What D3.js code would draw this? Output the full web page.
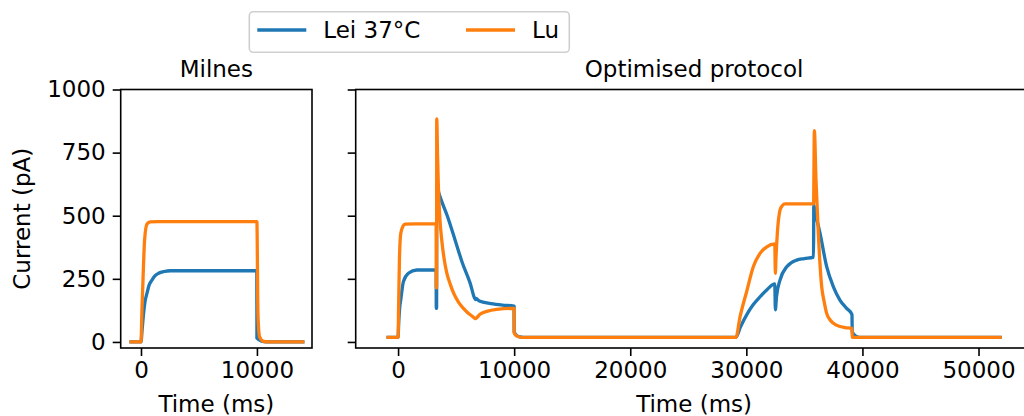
<!DOCTYPE html>
<html>
<head>
<meta charset="utf-8">
<script src="https://cdn.jsdelivr.net/npm/d3@7"></script>
<style>
    body { margin: 0; background: #fff; }
    svg { display: block; font-family: "DejaVu Sans", sans-serif; }
</style>
</head>
<body>
<div id="grafico"></div>
<script>
// Series names / colours
const seriesNames = ["Lei 37°C", "Lu"];
const seriesColors = ["#1f77b4", "#ff7f0e"];
const panelTitles = ["Milnes", "Optimised protocol"];
const yTicks = [0, 250, 500, 750, 1000];
const milnesTicks = [0, 10000];
const optTicks = [0, 10000, 20000, 30000, 40000, 50000];

// Milnes protocol: [time (ms), current (pA)]
const milnesLei = [[-1000, 0], [0, 0], [100, 50], [224, 113], [350, 160], [517, 193], [700, 225], [948, 245],
    [1200, 262], [1517, 272], [2000, 279], [2526, 282], [5000, 282], [9990, 282], [10000, 15], [10200, 8],
    [10570, 1], [11000, 0], [14100, 0]];
const milnesLu = [[-1000, 0], [0, 0], [80, 120], [172, 245], [310, 403], [517, 467], [800, 476], [1500, 477],
    [9990, 477], [10000, 476], [10086, 113], [10224, 21], [10570, 2], [11000, 0], [14100, 0]];

// Optimised protocol: [time (ms), current (pA)]
const optLei = [[-1000, 18], [0, 18], [60, 80], [150, 140], [230, 166], [460, 239], [890, 272], [1610, 285],
    [3280, 286], [3290, 133], [3320, 133], [3330, 625], [3445, 601], [3800, 552], [4220, 502], [4910, 404],
    [5510, 317], [6200, 234], [6690, 168], [6720, 172], [7000, 162], [8000, 152],
    [9000, 146], [9990, 142], [10000, 40], [10200, 26], [10500, 20], [10800, 18], [29100, 18], [29500, 60],
    [30100, 113], [30600, 148], [31180, 179], [31800, 208], [32450, 230], [32500, 127], [32600, 180],
    [32900, 245], [33480, 298], [34340, 324], [35000, 330], [35790, 336], [35810, 542], [36000, 500],
    [36350, 430], [36920, 298], [37490, 219], [38060, 166], [38600, 135], [39080, 110], [39100, 107],
    [39120, 40], [39400, 24], [39800, 18], [52000, 18]];
const optLu = [[-1000, 18], [0, 18], [50, 150], [120, 330], [230, 430], [430, 459], [600, 467], [1500, 468],
    [3280, 468], [3290, 214], [3320, 214], [3330, 884], [3400, 740], [3475, 610], [3600, 490], [3760, 404],
    [4000, 320], [4190, 275], [4500, 228], [4765, 195], [5200, 158], [5630, 133], [6000, 116], [6490, 98],
    [6630, 92], [6700, 93], [7060, 110], [7640, 121], [8500, 129], [9990, 133], [10000, 36], [10200, 24],
    [10660, 18], [29100, 18], [29460, 100], [30030, 200], [30600, 298], [31180, 351], [31760, 377],
    [32450, 388], [32500, 272], [32550, 330], [32670, 430], [32900, 522], [33100, 540], [33330, 547],
    [35790, 547], [35860, 837], [36000, 640], [36200, 430], [36490, 219], [36700, 160], [36920, 113],
    [37200, 88], [37500, 74], [38000, 62], [38500, 57], [39100, 54], [39120, 18], [52000, 18]];

const width = 1024;
const height = 416;
const plotTop = 89.5;
const plotBottom = 348;
const fontSize = 23;

const svg = d3.select('#grafico')
    .append('svg')
    .attr('width', width)
    .attr('height', height);

// Escala compartida en el eje y
const yScale = d3.scaleLinear()
    .domain([-24, 1000])
    .range([plotBottom, plotTop]);

const panels = [
    { title: panelTitles[0], left: 120.7, right: 312, domain: [-1750, 14750], ticks: milnesTicks, data: [milnesLei, milnesLu], yLabels: true },
    { title: panelTitles[1], left: 355.7, right: 1032.5, domain: [-3650, 54650], ticks: optTicks, data: [optLei, optLu], yLabels: false }
];

panels.forEach(p => {
    const xScale = d3.scaleLinear().domain(p.domain).range([p.left, p.right]);
    const g = svg.append('g');

    const line = d3.line()
        .curve(d3.curveMonotoneX)
        .x(d => xScale(d[0]))
        .y(d => yScale(d[1]));

    p.data.forEach((series, i) => {
        g.append('path')
            .datum(series)
            .attr('d', line)
            .attr('fill', 'none')
            .attr('stroke', seriesColors[i])
            .attr('stroke-width', 3.3)
            .attr('stroke-linejoin', 'round');
    });

    // Eje x
    const xAxis = d3.axisBottom(xScale)
        .tickValues(p.ticks)
        .tickFormat(d3.format('d'))
        .tickSize(8)
        .tickPadding(6);
    const gx = g.append('g')
        .attr('transform', `translate(0, ${plotBottom})`)
        .call(xAxis);

    // Eje y
    const yAxis = d3.axisLeft(yScale)
        .tickValues(yTicks)
        .tickFormat(p.yLabels ? d3.format('d') : '')
        .tickSize(8)
        .tickPadding(7);
    const gy = g.append('g')
        .attr('transform', `translate(${p.left}, 0)`)
        .call(yAxis);

    [gx, gy].forEach(a => {
        a.select('.domain').remove();
        a.selectAll('line').attr('stroke', '#000').attr('stroke-width', 1.6);
        a.selectAll('text')
            .attr('fill', '#000')
            .style('font-size', fontSize + 'px')
            .style('font-family', '"DejaVu Sans", sans-serif');
    });

    // Marco
    g.append('rect')
        .attr('x', p.left)
        .attr('y', plotTop)
        .attr('width', p.right - p.left)
        .attr('height', plotBottom - plotTop)
        .attr('fill', 'none')
        .attr('stroke', '#000')
        .attr('stroke-width', 1.6);

    const cx = (p.left + p.right) / 2;
    g.append('text')
        .attr('x', cx)
        .attr('y', 76.5)
        .attr('text-anchor', 'middle')
        .style('font-size', fontSize + 'px')
        .text(p.title);

    g.append('text')
        .attr('x', cx)
        .attr('y', 412)
        .attr('text-anchor', 'middle')
        .style('font-size', fontSize + 'px')
        .text('Time (ms)');
});

svg.append('text')
    .attr('transform', `translate(30, ${(plotTop + plotBottom) / 2}) rotate(-90)`)
    .attr('text-anchor', 'middle')
    .style('font-size', fontSize + 'px')
    .text('Current (pA)');

// Leyenda
const legend = svg.append('g');
legend.append('rect')
    .attr('x', 249.3)
    .attr('y', 11.7)
    .attr('width', 320)
    .attr('height', 40.6)
    .attr('rx', 4)
    .attr('fill', '#fff')
    .attr('stroke', '#d0d0d0')
    .attr('stroke-width', 1.6);

const legendX = [257.3, 466];
seriesNames.forEach((name, i) => {
    legend.append('line')
        .attr('x1', legendX[i])
        .attr('x2', legendX[i] + 49)
        .attr('y1', 30)
        .attr('y2', 30)
        .attr('stroke', seriesColors[i])
        .attr('stroke-width', 3.3);
    legend.append('text')
        .attr('x', legendX[i] + 66)
        .attr('y', 38.3)
        .style('font-size', fontSize + 'px')
        .text(name);
});
</script>
</body>
</html>
